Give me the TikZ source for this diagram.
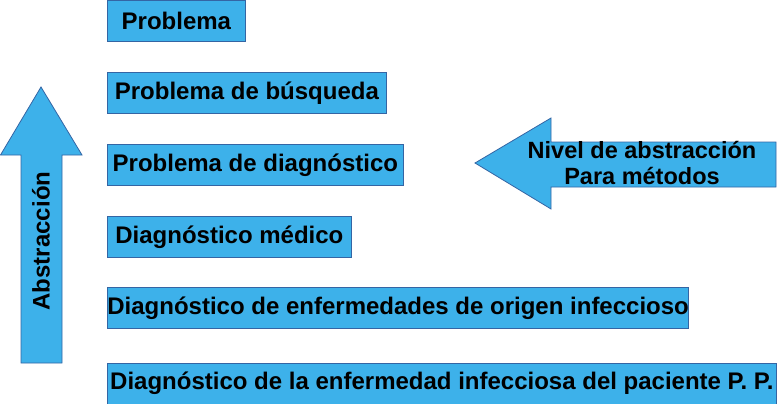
\documentclass[tikz,border=0pt]{standalone}
\usepackage{fontspec}
\setmainfont{Liberation Sans}
\definecolor{boxfill}{RGB}{61,177,234}
\definecolor{boxline}{RGB}{52,101,164}
\begin{document}
\begin{tikzpicture}[x=1pt,y=-1pt,
  lbl/.style={font=\fontsize{24}{26}\selectfont\bfseries, text=black, inner sep=0pt},
  levelbox/.style={draw=boxline, line width=0.8pt, fill=boxfill, anchor=north west,
    minimum height=41pt, inner sep=0pt, font=\fontsize{24}{26}\selectfont\bfseries},
  bigarrow/.style={draw=boxline, line width=0.8pt, fill=boxfill, line join=miter}]
\useasboundingbox (0,0) rectangle (779,404);
\node[levelbox, minimum width=138pt] (b1) at (107,0.5) {Problema};
\node[levelbox, minimum width=279pt] (b2) at (107,72) {Problema de búsqueda};
\node[levelbox, minimum width=296pt] (b3) at (107,144) {Problema de diagnóstico};
\node[levelbox, minimum width=244pt] (b4) at (107,216) {Diagnóstico médico};
\node[levelbox, minimum width=581pt] (b5) at (107,287) {Diagnóstico de enfermedades de origen infeccioso};
\node[levelbox, minimum width=669pt, minimum height=40.5pt] (b6) at (107,363) {Diagnóstico de la enfermedad infecciosa del paciente P. P.};
% up arrow
\draw[bigarrow] (21,363) -- (21,155) -- (0.5,155) -- (41,87) -- (82,155) -- (62,155) -- (62,363) -- cycle;
\node[lbl, rotate=90] (abs) at (41,241) {Abstracción};
% left arrow
\draw[bigarrow] (776,142) -- (551,142) -- (551,118) -- (475,163) -- (551,209) -- (551,187) -- (776,187) -- cycle;
\node[lbl, align=center, font=\fontsize{23.5}{26}\selectfont\bfseries] (niv) at (642,163) {Nivel de abstracción\\Para métodos};
\end{tikzpicture}
\end{document}
